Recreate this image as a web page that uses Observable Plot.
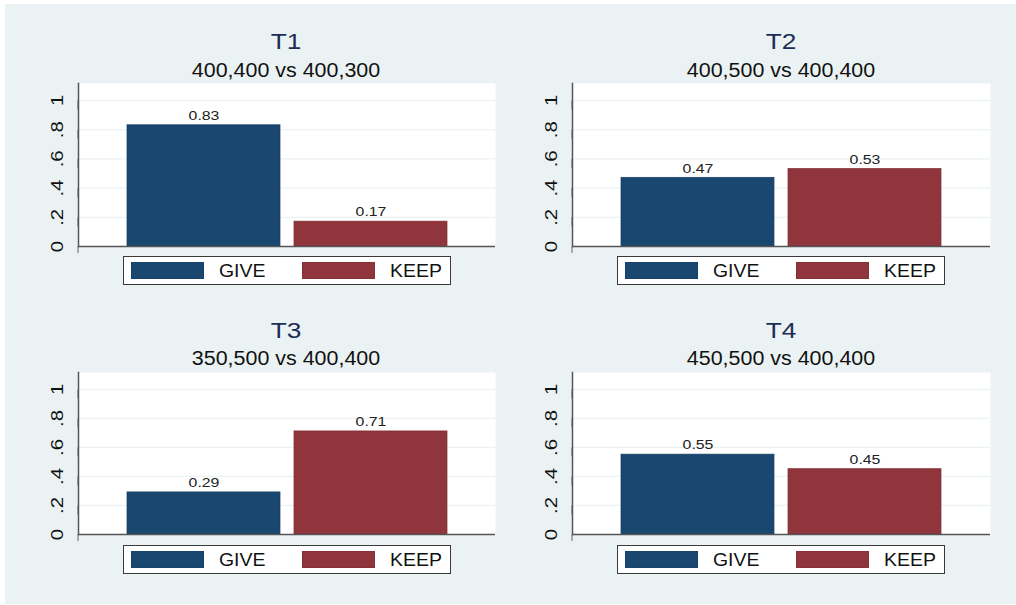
<!DOCTYPE html>
<html>
<head>
<meta charset="utf-8">
<script src="https://cdn.jsdelivr.net/npm/d3@7"></script>
<script src="https://cdn.jsdelivr.net/npm/@observablehq/plot@0.6"></script>
<style>
  html, body { margin: 0; padding: 0; background: #ffffff; font-family: "Liberation Sans", Arial, sans-serif; }
  #page { position: relative; width: 1016px; height: 605px; overflow: hidden; }
  #bg { position: absolute; left: 5px; top: 4px; width: 1011px; height: 600px; background: #eaf2f3; }
  .abs { position: absolute; }
  .ttl { color: #1e2d55; font-size: 21.5px; line-height: 21.5px; text-align: center; width: 400px; transform: scaleX(1.22); transform-origin: center; }
  .sub { color: #111; font-size: 19.5px; line-height: 19.5px; text-align: center; width: 400px; transform: scaleX(1.1); transform-origin: center; }
  .legend { box-sizing: border-box; width: 328px; height: 29px; background: #fff; border: 1px solid #3a3a3a; }
  .sw { position: absolute; top: 5px; width: 73px; height: 17px; box-sizing: border-box; }
  .lt { position: absolute; top: 4.5px; font-size: 18px; line-height: 18px; color: #111; transform: scaleX(1.08); transform-origin: left; }
</style>
</head>
<body>
<div id="page"><div id="bg"></div></div>
<script>
// ---- data ----
const panelNames = ["T1", "T2", "T3", "T4"];
const subtitles = ["400,400 vs 400,300", "400,500 vs 400,400", "350,500 vs 400,400", "450,500 vs 400,400"];
const choices = ["GIVE", "KEEP"];
const giveShares = [0.83, 0.47, 0.29, 0.55];
const keepShares = [0.17, 0.53, 0.71, 0.45];
const yTicks = [0, 0.2, 0.4, 0.6, 0.8, 1];
const choiceColors = ["#1a476f", "#90353b"];

// ---- layout ----
const page = document.getElementById("page");
const svgLeft = [30, 524], svgTop = [78, 366];
const titleTop = [31.5, 320.5], subTop = [60.5, 348.5];
const titleCx = [286, 781];
const legLeft = [123, 617], legTop = [256, 545];

const fmt = d => d === 0 ? "0" : d === 1 ? "1" : String(d).replace(/^0/, "");

// widen SVG text horizontally (along its reading direction), like Stata's rendering
function stretchTexts(nodes, s) {
  nodes.forEach(t => {
    const b = t.getBBox();
    const cx = b.x + b.width / 2;
    const prev = t.getAttribute("transform") || "";
    t.setAttribute("transform", `${prev} translate(${cx} 0) scale(${s} 1) translate(${-cx} 0)`);
  });
}

panelNames.forEach((name, i) => {
  const col = i % 2, row = Math.floor(i / 2);
  const data = choices.map((c, k) => ({choice: c, share: k === 0 ? giveShares[i] : keepShares[i]}));

  const chart = Plot.plot({
    width: 470,
    height: 175,
    marginLeft: 48,
    marginRight: col === 0 ? 5 : 4,
    marginTop: row === 0 ? 5 : 6,
    marginBottom: 7,
    style: {background: "transparent", fontFamily: "'Liberation Sans', Arial, sans-serif"},
    x: {domain: choices, paddingInner: 0.084, paddingOuter: 0.29, axis: null},
    y: {domain: [0, 1.116]},
    color: {domain: choices, range: choiceColors},
    marks: [
      Plot.frame({fill: "#ffffff", stroke: null}),
      Plot.gridY(yTicks.filter(d => d > 0), {stroke: "#eaf2f3", strokeOpacity: 1, strokeWidth: 1.2}),
      Plot.barY(data, {x: "choice", y: "share", fill: "choice",
        stroke: d => d.choice, strokeWidth: 0.8, strokeOpacity: 0.9}),
      Plot.text(data, {x: "choice", y: "share", text: d => d.share.toFixed(2), dy: -9.5,
        fontSize: 13, fill: "#222", className: "vlab"}),
      Plot.axisY({ticks: yTicks, tickFormat: fmt, rotate: -90, textAnchor: "middle",
        tickSize: 9, tickPadding: 12, fontSize: 17, stroke: "#666", fill: "#111", label: null}),
      Plot.frame({anchor: "left", stroke: "#555", strokeWidth: 1.5}),
      Plot.ruleY([0], {stroke: "#555", strokeWidth: 1.5})
    ]
  });
  chart.style.position = "absolute";
  chart.style.left = svgLeft[col] + "px";
  chart.style.top = svgTop[row] + "px";
  chart.querySelectorAll("rect").forEach(r => {
    const s = r.getAttribute("stroke");
    if (s && s !== "none") r.setAttribute("stroke", d3.color(s).darker(0.4));
  });
  page.appendChild(chart);

  stretchTexts(chart.querySelectorAll("g[aria-label='y-axis tick label'] text"), 1.2);
  stretchTexts(chart.querySelectorAll(".vlab text"), 1.22);

  const t = document.createElement("div");
  t.className = "abs ttl";
  t.textContent = name;
  t.style.left = (titleCx[col] - 200) + "px";
  t.style.top = titleTop[row] + "px";
  page.appendChild(t);

  const s = document.createElement("div");
  s.className = "abs sub";
  s.textContent = subtitles[i];
  s.style.left = (titleCx[col] - 200) + "px";
  s.style.top = subTop[row] + "px";
  page.appendChild(s);

  const leg = document.createElement("div");
  leg.className = "abs legend";
  leg.style.left = legLeft[col] + "px";
  leg.style.top = legTop[row] + "px";
  const swLeft = [7, 178], txtLeft = [95, 266];
  choices.forEach((c, k) => {
    const sw = document.createElement("div");
    sw.className = "sw";
    sw.style.left = swLeft[k] + "px";
    sw.style.background = choiceColors[k];
    sw.style.border = "1px solid " + d3.color(choiceColors[k]).darker(0.2);
    leg.appendChild(sw);
    const lt = document.createElement("div");
    lt.className = "lt";
    lt.style.left = txtLeft[k] + "px";
    lt.textContent = c;
    leg.appendChild(lt);
  });
  page.appendChild(leg);
});
</script>
</body>
</html>
